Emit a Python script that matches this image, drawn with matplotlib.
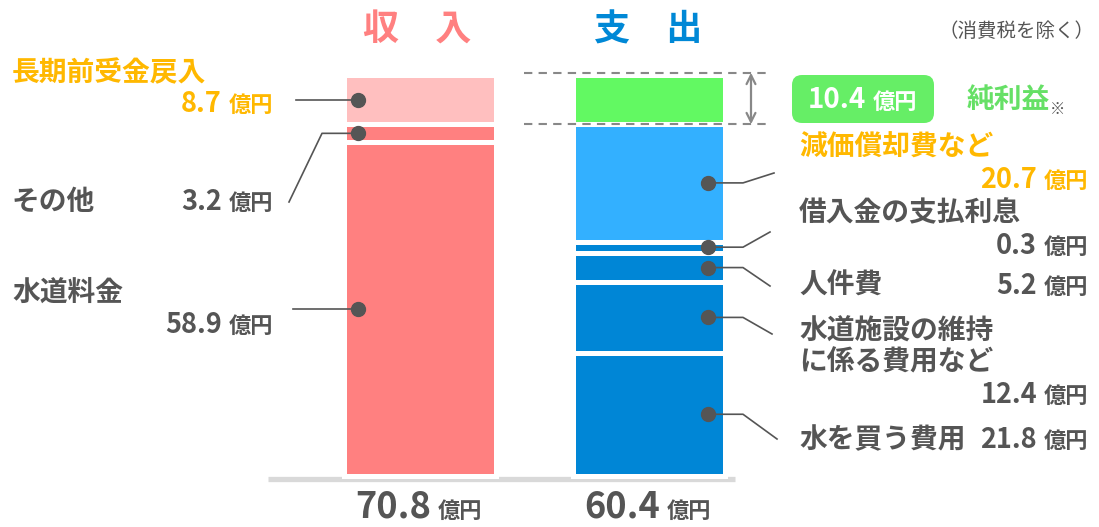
import matplotlib
matplotlib.use("Agg")
import matplotlib.pyplot as plt
from matplotlib.patches import FancyBboxPatch

plt.rcParams["font.family"] = ["Noto Sans CJK JP", "DejaVu Sans"]

# data (億円)
income_labels = ["水道料金", "その他", "長期前受金戻入"]
income_values = [58.9, 3.2, 8.7]
expense_labels = ["水を買う費用", "水道施設の維持\nに係る費用など", "人件費", "借入金の支払利息", "減価償却費など"]
expense_values = [21.8, 12.4, 5.2, 0.3, 20.7]
net_profit = 10.4
income_total = 70.8
expense_total = 60.4

# colours
PINK = "#FF8080"
LIGHT_PINK = "#FFBFBF"
BLUE = "#0086D6"
LIGHT_BLUE = "#33B0FF"
GREEN = "#62F962"
ORANGE = "#FFB800"
GRAY = "#555555"
income_colors = [PINK, PINK, LIGHT_PINK]
expense_colors = [BLUE, BLUE, BLUE, BLUE, LIGHT_BLUE]

# the canvas is laid out in pixels on x, value units on y
W, H = 1099, 527
BASE_PX = 476            # pixel row of value 0
PX_PER_UNIT = 401 / 70.8
MIN_H = 2.0              # smallest drawn segment so 0.3 stays visible


def py(p):
    """pixel row -> y value"""
    return (BASE_PX - p) / PX_PER_UNIT


fig = plt.figure(figsize=(W / 100, H / 100), dpi=100)
ax = fig.add_axes([0, 0, 1, 1])
ax.set_xlim(0, W)
ax.set_ylim(py(H), py(0))
ax.axis("off")

INC_X, EXP_X = 420, 649
BAR_W = 152
EDGE = 3.6


def stack(x, values, colors):
    mids = []
    b = 0.0
    for v, c in zip(values, colors):
        h = max(v, MIN_H)
        ax.bar(x, h, bottom=b, width=BAR_W, color=c, edgecolor="white",
               linewidth=EDGE, zorder=2)
        mids.append(b + h / 2)
        b += h
    return mids, b


inc_mids, inc_top = stack(INC_X, income_values, income_colors)
exp_mids, exp_top = stack(EXP_X, expense_values, expense_colors)
# net profit fills the gap up to the income total
ax.bar(EXP_X, income_total - exp_top, bottom=exp_top, width=BAR_W, color=GREEN,
       edgecolor="white", linewidth=EDGE, zorder=2)

# baseline
ax.plot([268, 735], [py(478.5), py(478.5)], color="#D9D9D9", lw=3.8,
        solid_capstyle="butt", zorder=1)

# dashed guides + arrow for net profit
for yv in (income_total + 0.4, exp_top):
    ax.plot([524, 766], [yv, yv], color="#888888", lw=1.5, dashes=(4, 3), zorder=3)
ax.annotate("", xy=(751, exp_top), xytext=(751, income_total + 0.4),
            arrowprops=dict(arrowstyle="<->", color="#888888", lw=1.6,
                            mutation_scale=16, shrinkA=0, shrinkB=0))


def amount(x_right, yp, num, color, nsize=19.5, usize=16):
    ax.text(x_right, py(yp + 1), "億円", ha="right", va="center", color=color,
            fontsize=usize, fontweight="bold")
    ax.text(x_right - 51, py(yp), num, ha="right", va="center", color=color,
            fontsize=nsize, fontweight="bold")


def leader(x_dot, y_dot, pts):
    xs = [x_dot] + [p[0] for p in pts]
    ys = [y_dot] + [y_dot if p[1] is None else py(p[1]) for p in pts]
    ax.plot(xs, ys, color=GRAY, lw=1.2, zorder=3)
    ax.plot(x_dot, y_dot, "o", color=GRAY, ms=10, zorder=4)


# income side: label pos, amount pos, leader path
inc_layout = [
    dict(lab=(12, 293), amt=(273, 325), path=[(293, None)], color=GRAY),
    dict(lab=(12, 202), amt=(273, 202), path=[(322, None), (289, 202)], color=GRAY),
    dict(lab=(12, 73), amt=(273, 104), path=[(296, None)], color=ORANGE),
]
for lab, v, m, lay in zip(income_labels, income_values, inc_mids, inc_layout):
    ax.text(lay["lab"][0], py(lay["lab"][1]), lab, ha="left", va="center",
            color=lay["color"], fontsize=20, fontweight="bold")
    amount(lay["amt"][0], lay["amt"][1], f"{v:.1f}", lay["color"])
    leader(INC_X - 62, m, lay["path"])

exp_layout = [
    dict(lab=(799, 440), amt=(1088, 440), path=[(743, None), (777, 439)], color=GRAY),
    dict(lab=(799, 347), amt=(1088, 395), path=[(743, None), (772, 334)], color=GRAY),
    dict(lab=(799, 286), amt=(1088, 286), path=[(743, None), (770, 286)], color=GRAY),
    dict(lab=(799, 213), amt=(1088, 246), path=[(743, None), (770, 232)], color=GRAY),
    dict(lab=(799, 148), amt=(1088, 180), path=[(743, None), (774, 173)], color=ORANGE),
]
for lab, v, m, lay in zip(expense_labels, expense_values, exp_mids, exp_layout):
    ax.text(lay["lab"][0], py(lay["lab"][1]), lab, ha="left", va="center",
            color=lay["color"], fontsize=20, fontweight="bold", linespacing=1.15)
    amount(lay["amt"][0], lay["amt"][1], f"{v:.1f}", lay["color"])
    leader(EXP_X + 59, m, lay["path"])

# net profit badge
box = FancyBboxPatch((792, py(123)), 142, 48 / PX_PER_UNIT,
                     boxstyle="round,pad=0,rounding_size=10",
                     mutation_aspect=1 / PX_PER_UNIT,
                     fc="#66EE66", ec="none", zorder=3)
ax.add_patch(box)
ax.text(866, py(100), f"{net_profit:.1f}", ha="right", va="center", color="white",
        fontsize=20, fontweight="bold", zorder=4)
ax.text(873, py(102), "億円", ha="left", va="center", color="white",
        fontsize=16, fontweight="bold", zorder=4)
ax.text(967, py(100), "純利益", ha="left", va="center", color="#66E066",
        fontsize=20, fontweight="bold")
ax.text(1050, py(109), "※", ha="left", va="center", color=GRAY, fontsize=11)

# titles
ax.text(417, py(30), "収　入", ha="center", va="center", color=PINK,
        fontsize=26, fontweight="bold")
ax.text(648, py(30), "支　出", ha="center", va="center", color="#0088D6",
        fontsize=26, fontweight="bold")
ax.text(1094, py(32), "（消費税を除く）", ha="right", va="center", color=GRAY,
        fontsize=14)

# totals
for x, tot in ((INC_X, income_total), (EXP_X, expense_total)):
    ax.text(x + 11, py(507), f"{tot:.1f}", ha="right", va="center", color=GRAY,
            fontsize=26, fontweight="bold")
    ax.text(x + 18, py(511), "億円", ha="left", va="center", color=GRAY,
            fontsize=16, fontweight="bold")

fig.savefig("out.png", dpi=100)
